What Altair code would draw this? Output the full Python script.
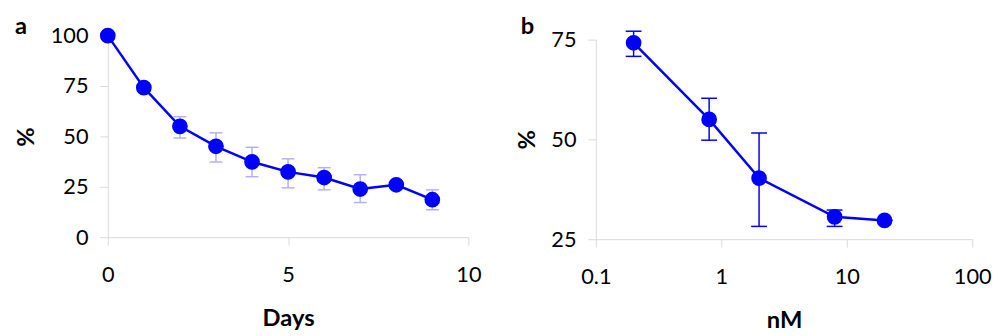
import altair as alt
import pandas as pd

# Panel a data
days = [0, 1, 2, 3, 4, 5, 6, 7, 8, 9]
pct_a = [100, 74.2, 55.0, 45.1, 37.4, 32.4, 29.6, 23.9, 26.0, 18.6]
lo_a = [100, 72.5, 49.2, 37.3, 30.0, 24.5, 23.5, 17.2, 24.0, 13.6]
hi_a = [100, 76.0, 59.8, 51.8, 44.6, 38.9, 34.5, 31.0, 28.0, 23.5]
xticks_a = [0, 5, 10]
yticks_a = [0, 25, 50, 75, 100]

# Panel b data
conc = [0.2, 0.8, 2, 8, 20]
pct_b = [74.2, 55.0, 40.3, 30.6, 29.7]
lo_b = [70.8, 49.8, 28.2, 28.2, 29.7]
hi_b = [77.1, 60.3, 51.6, 32.3, 29.7]
xticks_b = [0.1, 1, 10, 100]
yticks_b = [25, 50, 75]

FONT = "Lato"
BLUE = "#0000ff"
LIGHT = "#b2b2f2"
GRAY = "#d9d9d9"

da = pd.DataFrame({"x": days, "y": pct_a, "lo": lo_a, "hi": hi_a})
db = pd.DataFrame({"x": conc, "y": pct_b, "lo": lo_b, "hi": hi_b})


def panel(df, xscale, yscale, xvals, yvals, xtitle, letter, letter_x, errcolor, capsize, w, h, xfmt=None):
    xaxis_kw = dict(values=xvals, title=xtitle, tickSize=8, labelPadding=20,
                    titlePadding=21, labelFlush=False)
    if xfmt:
        xaxis_kw["format"] = xfmt
    X = alt.X("x:Q", scale=xscale, axis=alt.Axis(**xaxis_kw))
    Y = alt.Y("y:Q", scale=yscale,
              axis=alt.Axis(values=yvals, title="%", tickSize=8, labelPadding=12,
                            titlePadding=12, labelFlush=False))
    base = alt.Chart(df)
    rule = base.mark_rule(color=errcolor, strokeWidth=1.5).encode(
        x=alt.X("x:Q"), y=alt.Y("lo:Q"), y2="hi:Q")
    cap_lo = base.mark_tick(orient="horizontal", size=capsize, thickness=1.5,
                            color=errcolor, opacity=1).encode(x="x:Q", y="lo:Q")
    cap_hi = base.mark_tick(orient="horizontal", size=capsize, thickness=1.5,
                            color=errcolor, opacity=1).encode(x="x:Q", y="hi:Q")
    line = base.mark_line(color=BLUE, strokeWidth=2.5).encode(X, Y)
    pts = base.mark_circle(size=254, color=BLUE, opacity=1).encode(x="x:Q", y="y:Q")
    lab = alt.Chart(pd.DataFrame({"t": [letter]})).mark_text(
        font=FONT, fontSize=24, fontWeight="bold", align="left",
        baseline="alphabetic", color="black"
    ).encode(text="t:N", x=alt.value(letter_x), y=alt.value(-2))
    return alt.layer(line, rule, cap_lo, cap_hi, pts, lab).properties(width=w, height=h)


pa = panel(da, alt.Scale(domain=[0, 10], nice=False), alt.Scale(domain=[0, 100], nice=False),
           xticks_a, yticks_a, "Days", "a", -94, LIGHT, 13, 365, 204)
pb = panel(db, alt.Scale(type="log", domain=[0.1, 100], nice=False),
           alt.Scale(domain=[25, 75], nice=False, zero=False, range=[206, 4]),
           xticks_b, yticks_b, "nM", "b", -76, BLUE, 16, 381, 206, xfmt="~g")

chart = alt.hconcat(pa, pb, spacing=34).properties(
    padding={"left": 6, "top": 5, "right": 0, "bottom": 0}
).configure_view(
    stroke=None
).configure_axis(
    grid=False, domainColor=GRAY, tickColor=GRAY, labelFont=FONT, labelFontSize=22,
    labelColor="black", titleFont=FONT, titleFontSize=24, titleFontWeight="bold",
    titleColor="black"
)

chart.save("out.html", embed_options={"renderer": "svg", "actions": False})
